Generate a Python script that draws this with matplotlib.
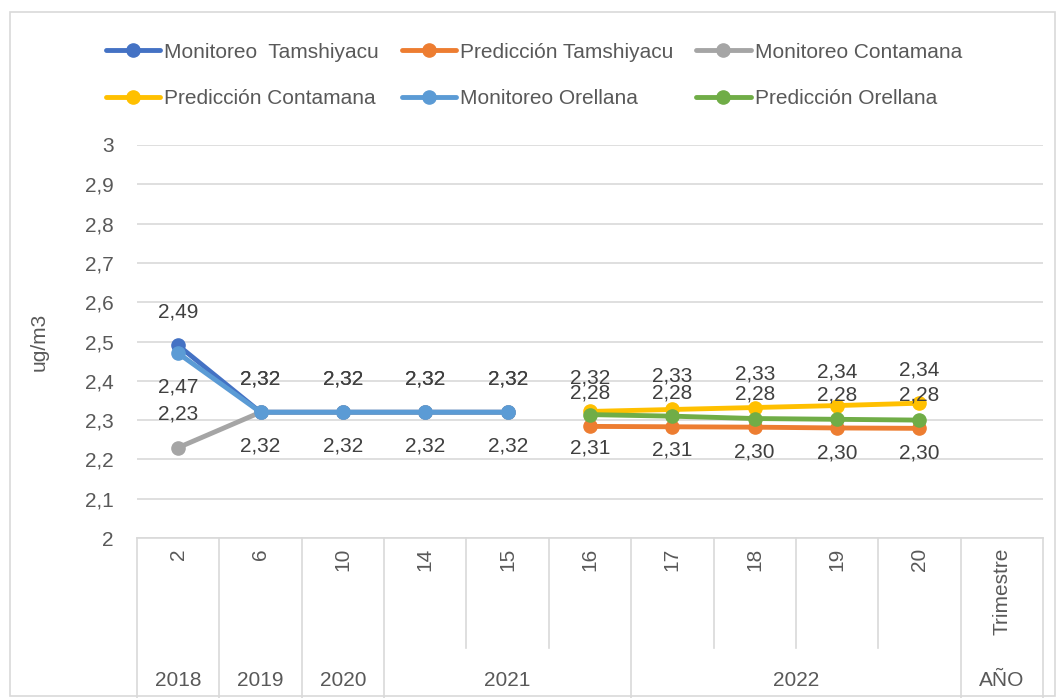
import numpy as np
import matplotlib.pyplot as plt
from matplotlib.patches import Rectangle
import matplotlib.transforms as mtransforms

plt.rcParams['font.family'] = ['Liberation Sans', 'DejaVu Sans']

trimestres = ['2', '6', '10', '14', '15', '16', '17', '18', '19', '20', 'Trimestre']
anios = ['2018', '2019', '2020', '2021', '2022', 'AÑO']
anios_span = [1, 1, 1, 3, 4, 1]

nan = np.nan
mon_tamshiyacu = [2.49, 2.32, 2.32, 2.32, 2.32, nan, nan, nan, nan, nan, nan]
pred_tamshiyacu = [nan, nan, nan, nan, nan, 2.284, 2.283, 2.282, 2.280, 2.279, nan]
mon_contamana = [2.23, 2.32, 2.32, 2.32, 2.32, nan, nan, nan, nan, nan, nan]
pred_contamana = [nan, nan, nan, nan, nan, 2.322, 2.327, 2.332, 2.337, 2.343, nan]
mon_orellana = [2.47, 2.32, 2.32, 2.32, 2.32, nan, nan, nan, nan, nan, nan]
pred_orellana = [nan, nan, nan, nan, nan, 2.314, 2.310, 2.304, 2.302, 2.300, nan]

series = [
    ('Monitoreo  Tamshiyacu', mon_tamshiyacu, '#4472C4', 1),
    ('Predicción Tamshiyacu', pred_tamshiyacu, '#ED7D31', 1),
    ('Monitoreo Contamana', mon_contamana, '#A5A5A5', 1),
    ('Predicción Contamana', pred_contamana, '#FFC000', 1),
    ('Monitoreo Orellana', mon_orellana, '#5B9BD5', -1),
    ('Predicción Orellana', pred_orellana, '#70AD47', -1),
]

W, H = 1059, 698
fig = plt.figure(figsize=(W / 100, H / 100), dpi=100)
ax = fig.add_axes([137 / W, (H - 538) / H, (1043 - 137) / W, (538 - 145) / H])

x = np.arange(len(trimestres))
handles = []
for name, vals, color, pos in series:
    vals = np.array(vals, dtype=float)
    h, = ax.plot(x, vals, color=color, lw=3.5, marker='o', ms=9.5,
                 solid_capstyle='round', label=name, zorder=3)
    handles.append(h)
    for xi, v in zip(x, vals):
        if np.isnan(v):
            continue
        ax.annotate(f'{v:.2f}'.replace('.', ','), (xi, v), xytext=(0, 24 * pos),
                    textcoords='offset points', ha='center', va='center',
                    fontsize=15, color='#404040', zorder=4)

ax.set_xlim(-0.5, len(trimestres) - 0.5)
ax.set_ylim(2, 3)
yt = np.arange(2, 3.01, 0.1)
ax.set_yticks(yt)
ax.set_yticklabels([f'{t:.1f}'.replace('.', ',').replace(',0', '') for t in yt])
ax.tick_params(axis='y', length=0, labelsize=15, labelcolor='#595959', pad=17)
ax.set_xticks([])
ax.grid(axis='y', color='#D9D9D9', lw=1.2)
ax.set_axisbelow(True)
for s in ['top', 'right', 'left']:
    ax.spines[s].set_visible(False)
ax.spines['bottom'].set_color('#D9D9D9')
ax.spines['bottom'].set_linewidth(1.2)
ax.set_ylabel('ug/m3', fontsize=15, color='#595959', labelpad=26)

# eje de categorias en dos niveles
trans = mtransforms.blended_transform_factory(ax.transData, ax.transAxes)
ybot = -160 / 393
yrow = -110 / 393
for xi, lab in zip(x, trimestres):
    ax.text(xi, -10 / 393, lab, transform=trans, rotation=90, ha='center', va='top',
            fontsize=15, color='#595959')
bounds = np.cumsum([0] + anios_span)
group_edges = set(bounds.tolist())
for b in range(len(trimestres) + 1):
    y_end = ybot if b in group_edges else yrow
    ax.plot([b - 0.5, b - 0.5], [0, y_end], transform=trans, color='#D9D9D9',
            lw=1.2, clip_on=False)
for lab, a, b in zip(anios, bounds[:-1], bounds[1:]):
    ax.text((a + b - 1) / 2, -142 / 393, lab, transform=trans, ha='center', va='center',
            fontsize=15, color='#595959')

order = [0, 3, 1, 4, 2, 5]
fig.legend([handles[i] for i in order], [series[i][0] for i in order],
           loc='upper left', bbox_to_anchor=(87 / W, 1 - 24 / H), ncol=3,
           frameon=False, fontsize=15, labelcolor='#595959', handlelength=2.6,
           handletextpad=0.2, columnspacing=1.1, labelspacing=1.3)

fig.patches.append(Rectangle((10 / W, 2 / H), 1045 / W, 684 / H, transform=fig.transFigure,
                             fill=False, edgecolor='#D9D9D9', lw=1.2))

fig.savefig('out.png', dpi=100)
